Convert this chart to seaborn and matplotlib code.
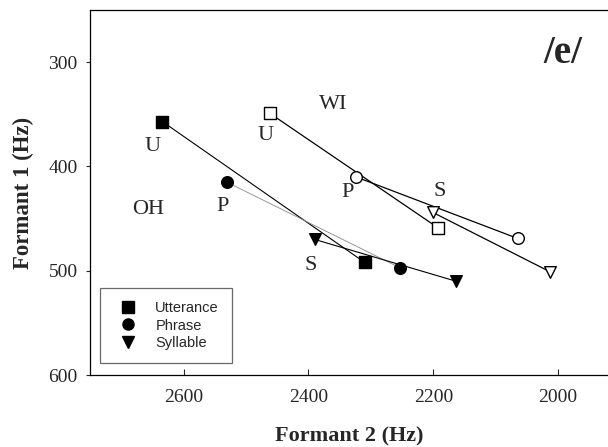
import matplotlib
matplotlib.use("Agg")
import matplotlib.pyplot as plt
import seaborn as sns
import pandas as pd
from matplotlib.lines import Line2D

sns.set_theme(style="white")
plt.rcParams['font.family'] = ['Liberation Serif', 'DejaVu Serif']

# Data: (F2, F1) pairs
oh_utt_f2 = [2634, 2310]; oh_utt_f1 = [357, 492]
oh_phr_f2 = [2531, 2254]; oh_phr_f1 = [415, 497]
oh_syl_f2 = [2390, 2164]; oh_syl_f1 = [470, 510]
wi_utt_f2 = [2462, 2192]; wi_utt_f1 = [349, 459]
wi_phr_f2 = [2324, 2065]; wi_phr_f1 = [410, 469]
wi_syl_f2 = [2201, 2013]; wi_syl_f1 = [444, 501]

series = [
    ("OH", "Utterance", oh_utt_f2, oh_utt_f1, "s", True, "black", 0.8),
    ("OH", "Phrase", oh_phr_f2, oh_phr_f1, "o", True, "#888888", 0.6),
    ("OH", "Syllable", oh_syl_f2, oh_syl_f1, "v", True, "black", 0.8),
    ("WI", "Utterance", wi_utt_f2, wi_utt_f1, "s", False, "black", 0.9),
    ("WI", "Phrase", wi_phr_f2, wi_phr_f1, "o", False, "black", 0.9),
    ("WI", "Syllable", wi_syl_f2, wi_syl_f1, "v", False, "black", 0.9),
]

fig = plt.figure(figsize=(6.08, 4.47), dpi=100)
ax = fig.add_axes([90/608, 1-375/447, 1-90/608, (375-10)/447])

for grp, lvl, xs, ys, mk, filled, lc, lw in series:
    df = pd.DataFrame({"F2": xs, "F1": ys})
    sns.lineplot(data=df, x="F2", y="F1", ax=ax, color=lc, lw=lw, sort=False,
                 estimator=None, legend=False)
    sns.scatterplot(data=df, x="F2", y="F1", ax=ax, marker=mk, s=70,
                    color="black" if filled else "white",
                    edgecolor="black", linewidth=1.0, legend=False, zorder=5)

ax.set_xlim(2750, 1920)
ax.set_ylim(600, 250)
ax.set_xticks([2600, 2400, 2200, 2000])
ax.set_yticks([300, 400, 500, 600])
ax.tick_params(axis='x', direction='in', length=4, width=0.8, labelsize=14, pad=10, bottom=True)
ax.tick_params(axis='y', direction='out', length=3, width=0.8, labelsize=14, pad=6, left=True)
for s in ['left', 'bottom', 'top']:
    ax.spines[s].set_color('black')
    ax.spines[s].set_linewidth(0.9)
ax.spines['right'].set_visible(False)

ax.set_xlabel("Formant 2 (Hz)", fontsize=16, fontweight='bold', labelpad=15)
ax.set_ylabel("Formant 1 (Hz)", fontsize=16.5, fontweight='bold', labelpad=10)

# Annotations
lab_kw = dict(fontsize=16, ha='center', va='center')
ax.text(2650, 381, "U", **lab_kw)
ax.text(2537, 438, "P", **lab_kw)
ax.text(2657, 441, "OH", **lab_kw)
ax.text(2397, 495, "S", **lab_kw)
ax.text(2360, 341, "WI", **lab_kw)
ax.text(2468, 370, "U", **lab_kw)
ax.text(2338, 425, "P", **lab_kw)
ax.text(2189, 424, "S", **lab_kw)
ax.text(1993, 292, "/e/", fontsize=28, fontweight='bold', ha='center', va='center')

handles = [Line2D([], [], marker=m, color='black', ls='none', markersize=8) for m in ["s", "o", "v"]]
leg = ax.legend(handles, ["Utterance", "Phrase", "Syllable"], loc='lower left',
                bbox_to_anchor=(0.005, 0.012), frameon=True, fancybox=False,
                prop={'family': 'Liberation Sans', 'size': 10.5},
                handletextpad=0.9, borderpad=0.9, labelspacing=0.25)
leg.get_frame().set_edgecolor('#444444')
leg.get_frame().set_linewidth(0.9)

fig.savefig("out.png", dpi=100)
